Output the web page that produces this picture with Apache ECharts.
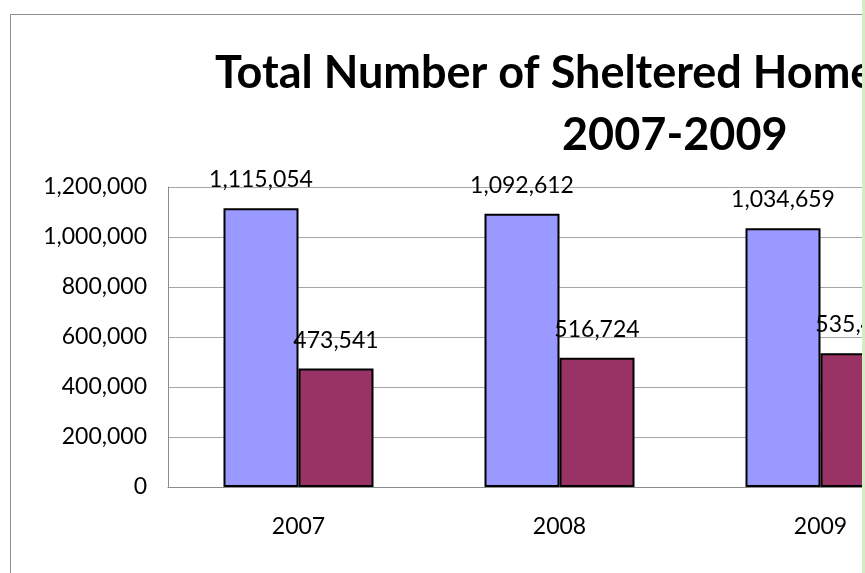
<!DOCTYPE html>
<html>
<head>
<meta charset="utf-8">
<script src="https://cdn.jsdelivr.net/npm/echarts@6/dist/echarts.min.js"></script>
<style>
  html, body { margin: 0; padding: 0; background: #fff; overflow: hidden; }
  #wrap { position: relative; width: 865px; height: 573px; overflow: hidden; }
  #chart { position: absolute; left: 0; top: 0; width: 1000px; height: 573px; }
  #strip { position: absolute; left: 862px; top: 0; width: 3px; height: 573px; background: #d3ecc3; }
</style>
</head>
<body>
<div id="wrap"><div id="chart"></div><div id="strip"></div></div>
<script>
const categories = ['2007', '2008', '2009'];
const seriesA = [1115054, 1092612, 1034659];
const seriesB = [473541, 516724, 535447];
const titleLine1 = 'Total Number of Sheltered Homeless Persons';
const titleLine2 = '2007-2009';

const FONT = 'Lato, "Open Sans", sans-serif';
const fmt = v => Number(v).toLocaleString('en-US');

const chart = echarts.init(document.getElementById('chart'), null, { renderer: 'canvas' });
chart.setOption({
  animation: false,
  backgroundColor: '#ffffff',
  title: [
    { text: titleLine1, left: 210, top: 46,
      textStyle: { fontFamily: FONT, fontWeight: 'bold', fontSize: 45, color: '#000' } },
    { text: titleLine2, left: 557, top: 108,
      textStyle: { fontFamily: FONT, fontWeight: 'bold', fontSize: 45, color: '#000' } }
  ],
  grid: { left: 168, top: 187, right: 49, bottom: 86, containLabel: false },
  xAxis: {
    type: 'category',
    data: categories,
    axisLine: { show: true, lineStyle: { color: '#8c8c8c', width: 1 } },
    axisTick: { show: false },
    axisLabel: { fontFamily: FONT, fontSize: 23, color: '#000', margin: 28 },
    splitLine: { show: false }
  },
  yAxis: {
    type: 'value',
    min: 0, max: 1200000, interval: 200000,
    axisLine: { show: true, lineStyle: { color: '#8c8c8c', width: 1 } },
    axisTick: { show: false },
    axisLabel: { fontFamily: FONT, fontSize: 23, color: '#000', margin: 21, formatter: fmt },
    splitLine: { show: true, lineStyle: { color: '#a6a6a6', width: 1 } }
  },
  series: [
    { type: 'bar', data: seriesA, barWidth: 75, barGap: '0%',
      itemStyle: { color: '#9999FF', borderColor: '#000', borderWidth: 2 },
      label: { show: true, position: 'top', distance: 17, fontFamily: FONT, fontSize: 23, color: '#000', formatter: p => fmt(p.value) } },
    { type: 'bar', data: seriesB, barWidth: 75,
      itemStyle: { color: '#993366', borderColor: '#000', borderWidth: 2 },
      label: { show: true, position: 'top', distance: 17, fontFamily: FONT, fontSize: 23, color: '#000', formatter: p => fmt(p.value) } }
  ],
  graphic: [
    { type: 'rect', left: 8, top: 12, z: 100, silent: true,
      shape: { x: 0, y: 0, width: 1100, height: 700 },
      style: { fill: 'none', stroke: '#8c8c8c', lineWidth: 1 } }
  ]
});
</script>
</body>
</html>
